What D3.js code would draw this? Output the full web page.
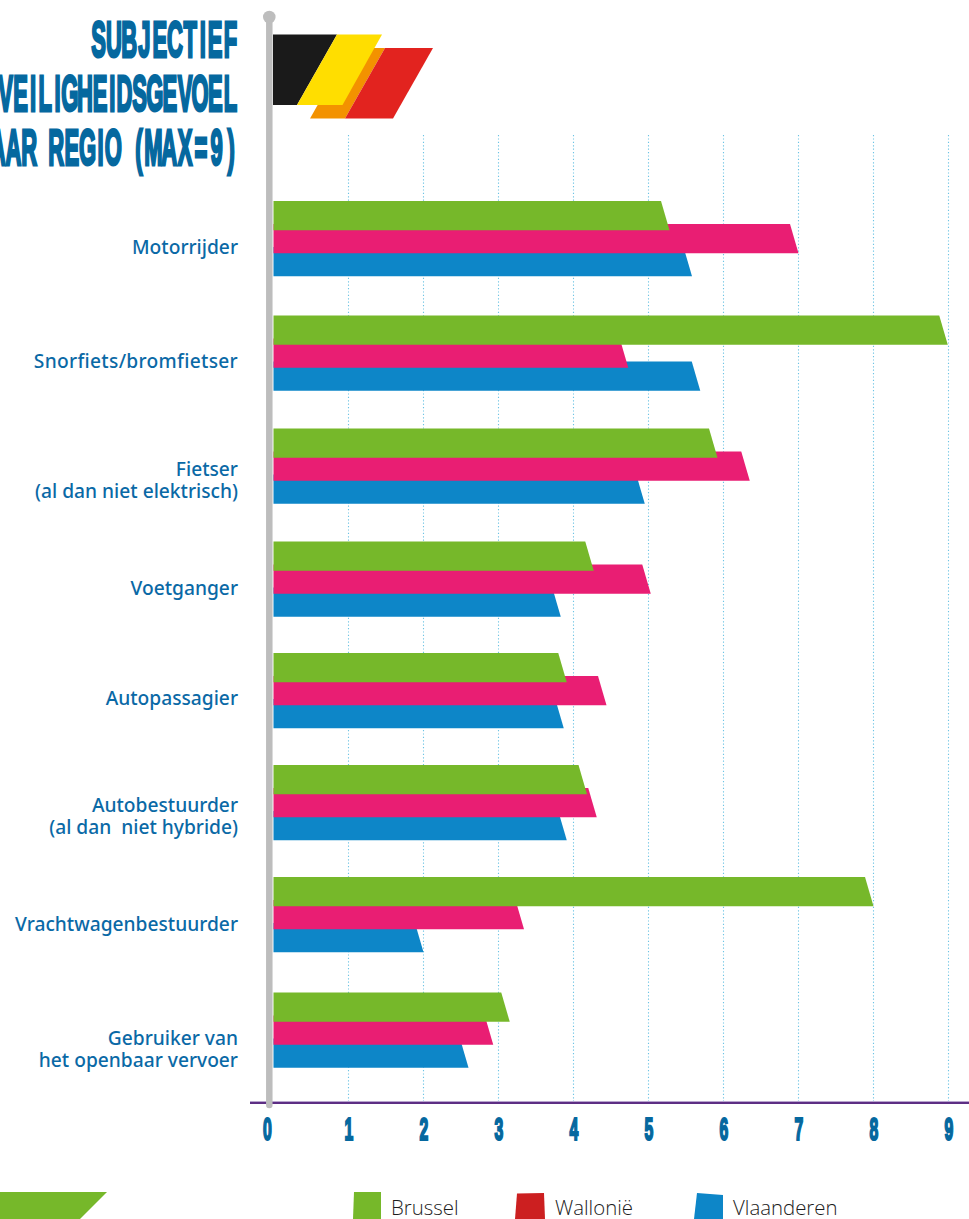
<!DOCTYPE html>
<html lang="nl">
<head>
<meta charset="utf-8">
<title>Subjectief veiligheidsgevoel per regio</title>
<script src="https://cdn.jsdelivr.net/npm/d3@7"></script>
<style>
  html, body { margin: 0; padding: 0; background: #fff; overflow: hidden; }
  svg { display: block; }
  .display { font-family: "Liberation Sans Narrow", "Liberation Sans", sans-serif; font-weight: 700; fill: #05689f; stroke: #05689f; }
  .cat { font-family: "Noto Sans", sans-serif; font-size: 19.2px; font-weight: 500; fill: #0a69a6; text-anchor: end; white-space: pre; }
  .leg { font-family: "Open Sans", sans-serif; font-size: 20.4px; font-weight: 300; fill: #1c1c1c; }
</style>
</head>
<body>
<svg id="chart" width="969" height="1219"></svg>
<script>
// Categories, with the line breaks used by the row labels
const categories = [
  "Motorrijder", "Snorfiets/bromfietser", "Fietser", "Voetganger",
  "Autopassagier", "Autobestuurder", "Vrachtwagenbestuurder", "Gebruiker"
];
const categoryLines = [
  ["Motorrijder"],
  ["Snorfiets/bromfietser"],
  ["Fietser", "(al dan niet elektrisch)"],
  ["Voetganger"],
  ["Autopassagier"],
  ["Autobestuurder", "(al dan  niet hybride)"],
  ["Vrachtwagenbestuurder"],
  ["Gebruiker van", "het openbaar vervoer"]
];

// Score per region (scale up to 9)
const brussel    = [5.28, 8.99, 5.92, 4.27, 3.91, 4.18, 8.00, 3.15];
const wallonie   = [7.00, 4.73, 6.35, 5.03, 4.44, 4.31, 3.34, 2.93];
const vlaanderen = [5.58, 5.69, 4.95, 3.83, 3.87, 3.91, 2.00, 2.60];

const regions = ["Brussel", "Wallonië", "Vlaanderen"];
const regionValues = [brussel, wallonie, vlaanderen];
const regionColors = ["#76b82a", "#e91e73", "#0d86c8"];
const legendColors = ["#76b82a", "#cc1f20", "#0d86c8"];

const titleLines = ["SUBJECTIEF", "VEILIGHEIDSGEVOEL", "NAAR REGIO (MAX=9)"];
const tickValues = [0, 1, 2, 3, 4, 5, 6, 7, 8, 9];

const svg = d3.select("#chart");

// Scales: score to x, row to the top of its block of bars
const x = d3.scaleLinear().domain([0, 9]).range([273.5, 948.5]);
const rowTop = d3.scaleOrdinal(categories, [201, 315.5, 428.5, 541.5, 653, 765, 877, 992.5]);
const rowLabelMid = d3.scaleOrdinal(categories, [247, 361, 480, 588, 698, 816, 924, 1049]);
const regionOffset = d3.scalePoint().domain(regions).range([0, 46]);

const barHeight = 29.3;
const slant = 8.5;
const axisY = 1103;

// Dotted guide lines behind the bars
svg.append("g").selectAll("line")
  .data(tickValues.slice(1))
  .join("line")
  .attr("x1", d => x(d)).attr("x2", d => x(d))
  .attr("y1", 135).attr("y2", axisY)
  .attr("stroke", "#6cc3e4")
  .attr("stroke-width", 1.1)
  .attr("stroke-dasharray", "1.2 2.2");

// Bars: Vlaanderen first, Brussel on top, each with a slanted right end
const line = d3.line();
const bars = svg.append("g");
[2, 1, 0].forEach(r => {
  bars.selectAll(null)
    .data(regionValues[r].map((v, i) => ({ v, cat: categories[i] })))
    .join("path")
    .attr("fill", regionColors[r])
    .attr("d", d => {
      const top = rowTop(d.cat) + regionOffset(regions[r]);
      return line([
        [x(0), top], [x(d.v) - slant, top],
        [x(d.v), top + barHeight], [x(0), top + barHeight]
      ]) + "Z";
    });
});

// Horizontal axis with its heavy display numerals
const axisG = svg.append("g").attr("transform", `translate(0,${axisY})`);
axisG.call(d3.axisBottom(x).tickValues(tickValues).tickFormat(d3.format("d")).tickSize(0).tickPadding(0));
axisG.select(".domain").remove();
axisG.selectAll(".tick text")
  .attr("class", "display")
  .attr("y", 0)
  .attr("dy", 0)
  .attr("text-anchor", "middle")
  .attr("stroke-width", 2.2)
  .style("font-size", "31.5px")
  .attr("transform", d => `translate(${d === 0 ? -6.5 : 0},37.3) scale(0.5,1)`);

svg.append("line").attr("x1", 250).attr("x2", 969).attr("y1", axisY - 1.5).attr("y2", axisY - 1.5)
  .attr("stroke", "#b9a5cf").attr("stroke-width", 1);
svg.append("line").attr("x1", 250).attr("x2", 969).attr("y1", axisY).attr("y2", axisY)
  .attr("stroke", "#5d2e84").attr("stroke-width", 2);

// Row labels
const catG = svg.append("g");
categoryLines.forEach((lines, i) => {
  const mid = rowLabelMid(categories[i]);
  lines.forEach((t, j) => {
    catG.append("text")
      .attr("class", "cat")
      .attr("x", 238)
      .attr("y", mid + (j - (lines.length - 1) / 2) * 22 + 6.5)
      .style("letter-spacing", t.includes("/") ? "0.3px" : null)
      .text(t);
  });
});

// Flag pole
svg.append("line").attr("x1", 269.3).attr("x2", 269.3).attr("y1", 17).attr("y2", 1105)
  .attr("stroke", "#bdbdbd").attr("stroke-width", 6.5).attr("stroke-linecap", "round");
svg.append("circle").attr("cx", 269.3).attr("cy", 17).attr("r", 6.3).attr("fill", "#bdbdbd");

// Two overlapping pennants
const flagShapes = [
  { c: "#f39200", p: [[350, 48], [385, 48], [345, 118.5], [310, 118.5]] },
  { c: "#e2231f", p: [[385, 48], [433, 48], [393, 118.5], [345, 118.5]] },
  { c: "#1a1a1a", p: [[273, 34.5], [337, 34.5], [297, 105], [273, 105]] },
  { c: "#ffde00", p: [[337, 34.5], [382, 34.5], [342.5, 105], [297, 105]] }
];
svg.append("g").selectAll("path").data(flagShapes).join("path")
  .attr("fill", d => d.c).attr("d", d => line(d.p) + "Z");

// Title: block capitals set on an even pitch, running off the left edge
const titleWidths = [147, 240, 264];
const titleBase = [57, 110.5, 164.5];
const titleSqueeze = 0.44;
const cellWeight = c => (c === " " ? 0.7 : c === "I" ? 0.62 : c === "(" || c === ")" ? 0.85 : 1);
titleLines.forEach((t, i) => {
  const el = svg.append("text")
    .attr("class", "display")
    .attr("stroke-width", 3)
    .style("font-size", "50px")
    .style("white-space", "pre")
    .text(t);
  const chars = Array.from(t);
  const pitch = titleWidths[i] / titleSqueeze / d3.sum(chars, cellWeight);
  let cursor = 0;
  const starts = chars.map((c, k) => {
    const glyph = el.node().getSubStringLength(k, 1);
    const cell = pitch * cellWeight(c);
    const start = cursor + (cell - glyph) / 2;
    cursor += cell;
    return start;
  });
  el.attr("x", starts.join(" "))
    .attr("transform", `translate(${238 - titleWidths[i]},${titleBase[i]}) scale(${titleSqueeze},1)`);
});

// Legend and the green corner band
svg.append("path").attr("fill", "#76b82a")
  .attr("d", line([[0, 1192], [107, 1192], [80, 1219], [0, 1219]]) + "Z");

const legendSwatches = [
  [[354, 1192], [381, 1192], [381, 1219], [353, 1219]],
  [[517, 1193.5], [544, 1193], [545, 1219], [515, 1219]],
  [[697, 1193], [723, 1195], [723, 1219], [694, 1219]]
];
const legendTextX = [391, 555, 733];
regions.forEach((name, i) => {
  svg.append("path").attr("fill", legendColors[i]).attr("d", line(legendSwatches[i]) + "Z");
  svg.append("text").attr("class", "leg").attr("x", legendTextX[i]).attr("y", 1215).text(name);
});
</script>
</body>
</html>
